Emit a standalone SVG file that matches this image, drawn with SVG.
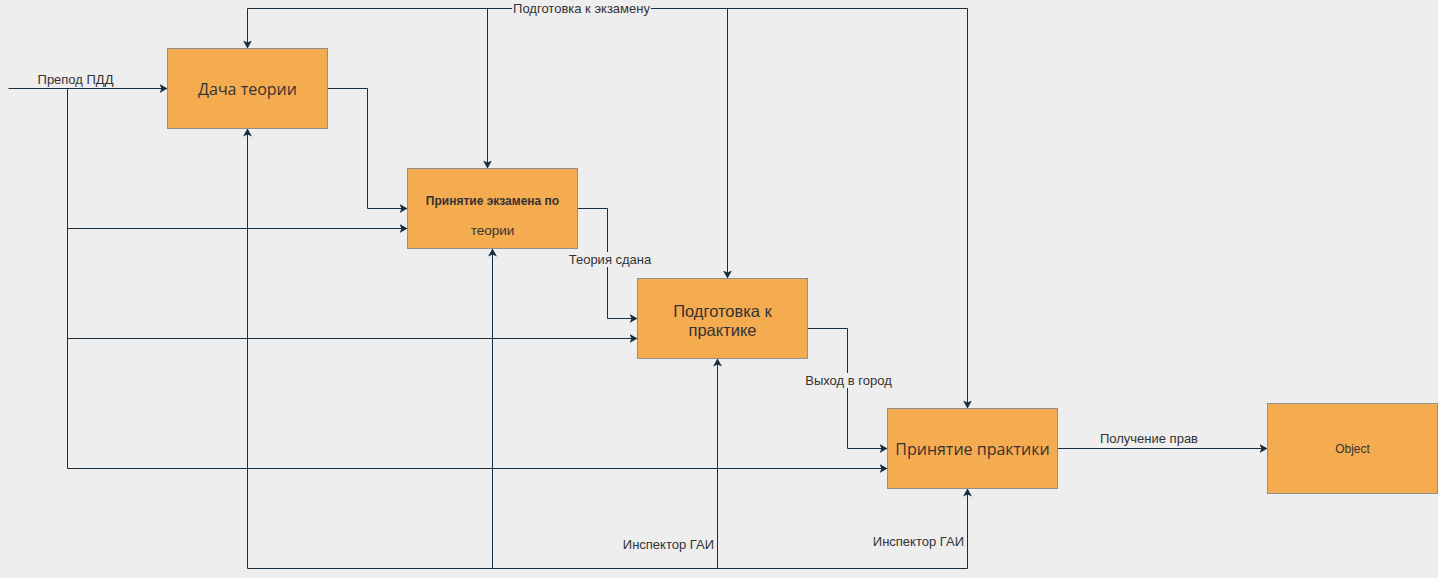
<svg xmlns="http://www.w3.org/2000/svg" width="1438" height="578" viewBox="0 0 1438 578">
<style>
.box{fill:#F5AB50;stroke:#909090;stroke-width:1}
.lbl{font-family:"Open Sans","Liberation Sans",Arial,sans-serif;font-size:16px;fill:#333333;text-anchor:middle}
.el{font-family:"Liberation Sans",Arial,sans-serif;font-size:13px;fill:#333333}
.ln{fill:none;stroke:#182E3E;stroke-width:1}
.bg{fill:#EEEEEE}
</style>
<defs>
<marker id="arr" markerUnits="userSpaceOnUse" markerWidth="10" markerHeight="10" refX="8" refY="4.5" orient="auto">
<path d="M0,0 L8,4.5 L0,9 L2,4.5 z" fill="#182E3E"/>
</marker>
</defs>
<rect x="0" y="0" width="1438" height="578" fill="#EEEEEE"/>
<g id="connectors">
<path class="ln" d="M8.5,88.5 H167.5" marker-end="url(#arr)"/>
<path class="ln" d="M67.5,88.5 V468.5 H887.5" marker-end="url(#arr)"/>
<path class="ln" d="M67.5,228.5 H407.5" marker-end="url(#arr)"/>
<path class="ln" d="M67.5,338.5 H637.5" marker-end="url(#arr)"/>
<path class="ln" d="M327.5,88.5 H367.5 V208.5 H407.5" marker-end="url(#arr)"/>
<path class="ln" d="M577.5,208.5 H607.5 V318.5 H637.5" marker-end="url(#arr)"/>
<path class="ln" d="M807.5,328.5 H847.5 V448.5 H887.5" marker-end="url(#arr)"/>
<path class="ln" d="M1057.5,448.5 H1267.5" marker-end="url(#arr)"/>
<path class="ln" d="M247.5,8.5 V48.5" marker-end="url(#arr)"/>
<path class="ln" d="M247.5,8.5 H967.5 V408.5" marker-end="url(#arr)"/>
<path class="ln" d="M487.5,8.5 V168.5" marker-end="url(#arr)"/>
<path class="ln" d="M727.5,8.5 V278.5" marker-end="url(#arr)"/>
<path class="ln" d="M247.5,568.5 V128.5" marker-end="url(#arr)"/>
<path class="ln" d="M247.5,568.5 H967.5 V488.5" marker-end="url(#arr)"/>
<path class="ln" d="M492.5,568.5 V248.5" marker-end="url(#arr)"/>
<path class="ln" d="M717.5,568.5 V358.5" marker-end="url(#arr)"/>
<text class="el" x="75.5" y="84" text-anchor="middle">Препод ПДД</text>
<rect class="bg" x="512" y="1" width="139" height="14"/>
<text class="el" x="581.5" y="13" text-anchor="middle">Подготовка к экзамену</text>
<rect class="bg" x="568" y="252" width="84" height="15"/>
<text class="el" x="610" y="264" text-anchor="middle">Теория сдана</text>
<rect class="bg" x="804" y="373" width="89" height="15"/>
<text class="el" x="848.5" y="385" text-anchor="middle">Выход в город</text>
<text class="el" x="1149" y="443" text-anchor="middle">Получение прав</text>
<text class="el" x="714" y="549" text-anchor="end">Инспектор ГАИ</text>
<text class="el" x="964" y="546" text-anchor="end">Инспектор ГАИ</text>
</g>
<g id="node-dacha">
<rect class="box" x="167.5" y="48.5" width="160" height="80"/>
<text class="lbl" x="247.5" y="94.5">Дача теории</text>
</g>
<g id="node-exam">
<rect class="box" x="407.5" y="168.5" width="170" height="80"/>
<text class="lbl" x="492.5" y="205" style="font-family:'Liberation Sans',Arial,sans-serif;font-size:12px;font-weight:bold">Принятие экзамена по</text>
<text class="lbl" x="492.5" y="234.5" style="font-family:'Liberation Sans',Arial,sans-serif;font-size:13.5px">теории</text>
</g>
<g id="node-prep">
<rect class="box" x="637.5" y="278.5" width="170" height="80"/>
<text class="lbl" x="722.5" y="316.5" style="font-family:'Liberation Sans',Arial,sans-serif;font-size:16.5px">Подготовка к</text>
<text class="lbl" x="722.5" y="335.7" style="font-family:'Liberation Sans',Arial,sans-serif;font-size:16.5px">практике</text>
</g>
<g id="node-practice">
<rect class="box" x="887.5" y="408.5" width="170" height="80"/>
<text class="lbl" x="972.5" y="454.5">Принятие практики</text>
</g>
<g id="node-object">
<rect class="box" x="1267.5" y="403.5" width="170" height="90"/>
<text class="lbl" x="1352.5" y="452.5" style="font-family:'Liberation Sans',Arial,sans-serif;font-size:12px">Object</text>
</g>
</svg>
